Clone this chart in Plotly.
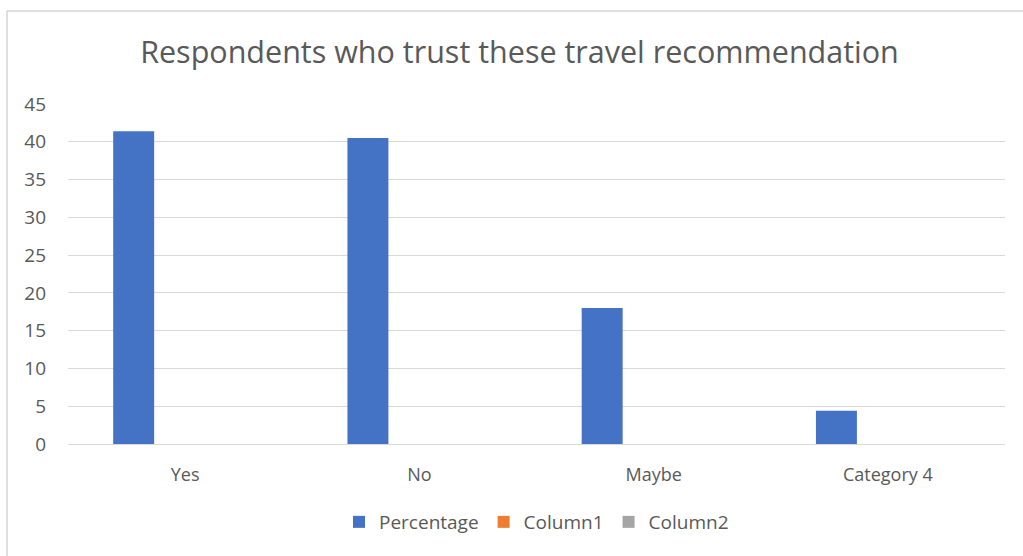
import plotly.graph_objects as go

# Survey results
categories = ["Yes", "No", "Maybe", "Category 4"]
percentage = [41.4, 40.5, 18.0, 4.4]
column1 = [None, None, None, None]
column2 = [None, None, None, None]

y_ticks = [0, 5, 10, 15, 20, 25, 30, 35, 40, 45]

W, H = 1023, 556
L, R, T, B = 68, 18, 104, 112
plot_w = W - L - R
plot_h = H - T - B

font_family = "Open Sans, Noto Sans, sans-serif"
text_color = "#595959"
grid_color = "#D9D9D9"

fig = go.Figure()
fig.add_trace(go.Bar(name="Percentage", x=categories, y=percentage,
                     marker=dict(color="#4472C4", line=dict(width=0))))
fig.add_trace(go.Bar(name="Column1", x=categories, y=column1,
                     marker=dict(color="#ED7D31", line=dict(width=0))))
fig.add_trace(go.Bar(name="Column2", x=categories, y=column2,
                     marker=dict(color="#A5A5A5", line=dict(width=0))))

# chart frame (left and top edges)
def px_x(px):
    return (px - L) / plot_w

def px_y(py):
    return (H - B - py) / plot_h

frame = dict(color="#D4D4D4", width=1.5)
fig.add_shape(type="line", xref="paper", yref="paper",
              x0=px_x(7), x1=px_x(7), y0=px_y(11), y1=px_y(560), line=frame)
fig.add_shape(type="line", xref="paper", yref="paper",
              x0=px_x(7), x1=px_x(1030), y0=px_y(11), y1=px_y(11), line=frame)

fig.update_layout(
    width=W, height=H,
    margin=dict(l=L, r=R, t=T, b=B),
    paper_bgcolor="white", plot_bgcolor="white",
    barmode="group", bargap=0.341, bargroupgap=0.204,
    font=dict(family=font_family, color=text_color, size=18),
    title=dict(text="Respondents who trust these travel recommendation",
               x=519.5 / W, xanchor="center", y=1 - 52 / H, yanchor="middle",
               font=dict(size=30.5, color=text_color, family=font_family)),
    xaxis=dict(showgrid=False, showline=True, linecolor=grid_color, linewidth=1,
               ticks="", ticklabelstandoff=14,
               tickfont=dict(size=18, color=text_color)),
    yaxis=dict(range=[0, 45], tickvals=y_ticks, showgrid=True,
               gridcolor=grid_color, gridwidth=1, zeroline=False,
               showline=False, ticks="", ticklabelstandoff=21,
               tickfont=dict(size=19, color=text_color)),
    legend=dict(orientation="h", x=0.5, xanchor="center",
                y=px_y(522), yanchor="middle",
                font=dict(size=19, color=text_color),
                itemwidth=30, traceorder="normal"),
    showlegend=True,
)

fig.write_html("out.html")
